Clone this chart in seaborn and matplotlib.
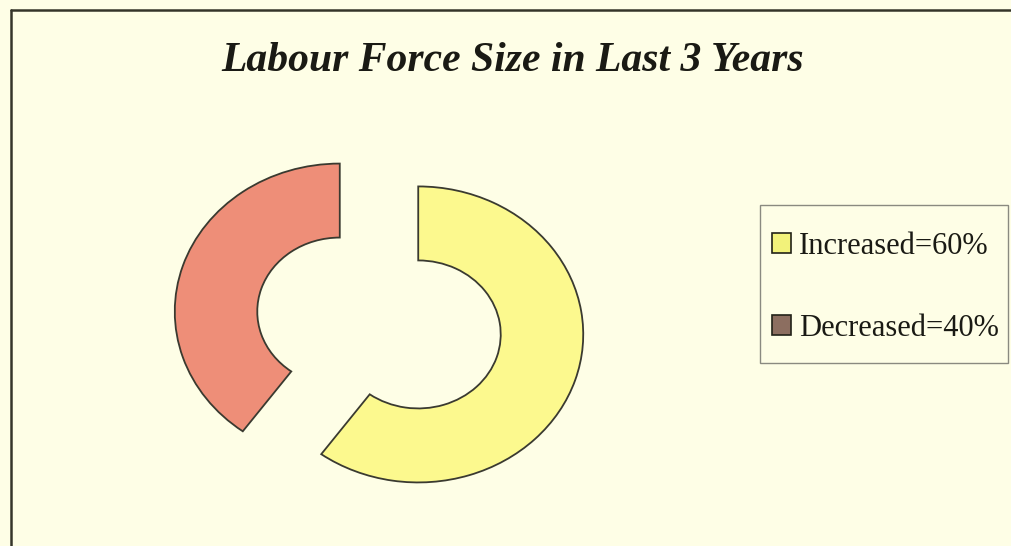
import matplotlib
matplotlib.use("Agg")
import matplotlib.pyplot as plt
import seaborn as sns
from matplotlib.patches import Patch, Rectangle
from matplotlib.lines import Line2D

# ---- data ----
categories = ["Increased", "Decreased"]
values = [60, 40]
legend_labels = ["Increased=60%", "Decreased=40%"]
title_text = "Labour Force Size in Last 3 Years"

# ---- style ----
sns.set_theme(style="white")
plt.rcParams["font.family"] = ["Liberation Serif", "DejaVu Serif"]

bg = "#FEFEE6"
wedge_colors = ["#FCF98E", "#EE8E78"]
legend_colors = ["#F2F27A", "#8C6E60"]

W, H = 1011, 546
fig = plt.figure(figsize=(W / 100, H / 100), dpi=100)
fig.patch.set_facecolor(bg)

# pie axes: 1 unit x = 165 px, 1 unit y = 148 px, center at (379, 323) px
cx, cy = 379, 323
rx, ry = 165, 148
ax = fig.add_axes([(cx - 1.5 * rx) / W, ((H - cy) - 1.5 * ry) / H, 3 * rx / W, 3 * ry / H])
ax.set_facecolor(bg)
ax.pie(values, colors=wedge_colors, startangle=90, counterclock=False,
       explode=[0.25, 0.25], radius=1.0,
       wedgeprops=dict(width=0.5, edgecolor="#3a3a30", linewidth=1.3))
ax.set_aspect("auto")
ax.set_xlim(-1.5, 1.5)
ax.set_ylim(-1.5, 1.5)
ax.axis("off")

# title
fig.text(513 / W, 1 - 61 / H, title_text, ha="center", va="center",
         fontsize=30, fontweight="bold", fontstyle="italic", color="#1a1a14")

# legend frame
fig.add_artist(Rectangle((760 / W, 1 - 363 / H), (1008 - 760) / W, (363 - 205) / H,
                         transform=fig.transFigure, facecolor=bg,
                         edgecolor="#8a8a80", linewidth=1.0, zorder=1))

# legend entries
handles = [Patch(facecolor=c, edgecolor="#222218", linewidth=1.2) for c in legend_colors]
leg = fig.legend(handles, legend_labels, loc="upper left",
                 bbox_to_anchor=(772 / W, 1 - 232 / H), borderaxespad=0,
                 fontsize=22, frameon=False,
                 handlelength=0.62, handleheight=0.62, handletextpad=0.25,
                 labelspacing=1.73, borderpad=0.0)
leg.set_zorder(3)
for t in leg.get_texts():
    t.set_color("#1a1a14")

# outer border (left and top)
fig.add_artist(Line2D([11 / W, 11 / W], [0, 1 - 10 / H], transform=fig.transFigure,
                      color="#35352a", linewidth=1.8))
fig.add_artist(Line2D([11 / W, 1], [1 - 10 / H, 1 - 10 / H], transform=fig.transFigure,
                      color="#35352a", linewidth=1.8))

fig.savefig("out.png", dpi=100, facecolor=bg)
